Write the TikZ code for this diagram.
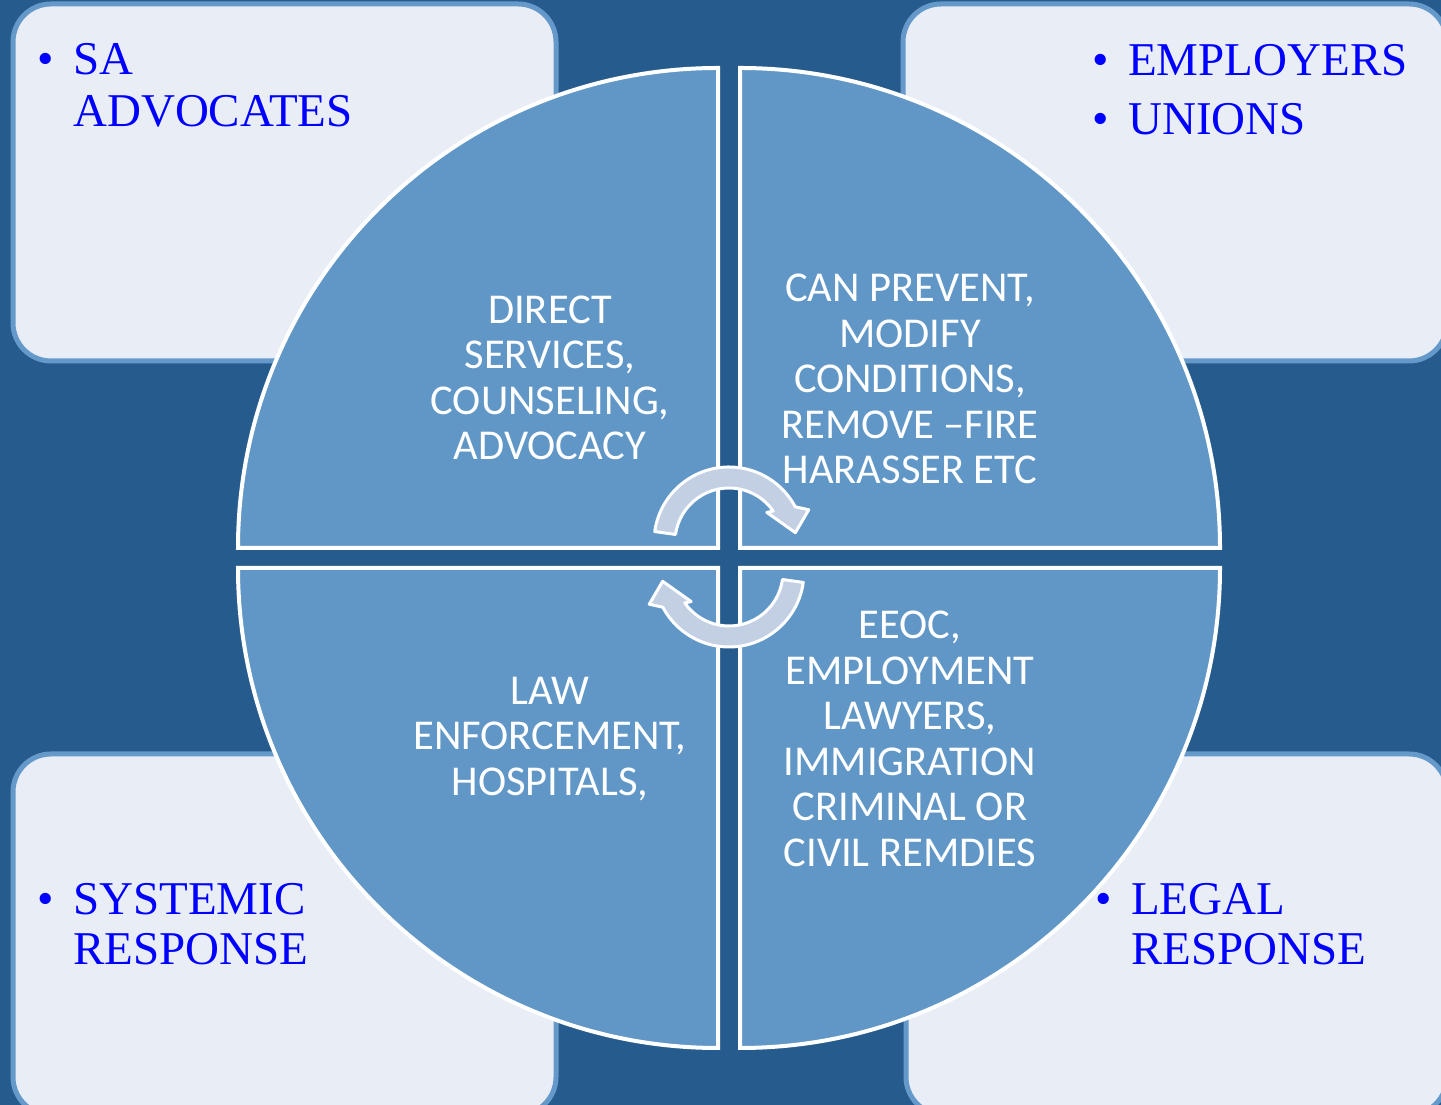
\documentclass[tikz,border=0pt]{standalone}
\usepackage{fontspec}
\setmainfont{Liberation Serif}
\newfontfamily\quadfont{Carlito}
\usetikzlibrary{calc}
\definecolor{slidebg}{RGB}{38,92,141}
\definecolor{quadfill}{RGB}{97,151,199}
\definecolor{boxfill}{RGB}{233,238,246}
\definecolor{boxedge}{RGB}{101,153,202}
\definecolor{arrowfill}{RGB}{195,208,227}
\tikzset{
	cornerbox/.style={fill=boxfill, draw=boxedge, line width=5pt, rounded corners=38pt},
	quadrant/.style={fill=quadfill, draw=white, line width=4pt},
	quadtext/.style={text=white, align=center, font=\quadfont\fontsize{42.5}{45.5}\selectfont},
	itemtext/.style={text=blue, anchor=base west, inner sep=0pt, font=\fontsize{47}{52}\selectfont},
	itembullet/.style={text=blue, anchor=base, inner sep=0pt, font=\fontsize{47}{52}\selectfont},
	turnarrow/.style={fill=arrowfill, draw=white, line width=3pt, line join=round}
}
\begin{document}
\begin{tikzpicture}[x=1pt, y=1pt]
				\useasboundingbox (0,0) rectangle (1441,1105);
				\clip (0,0) rectangle (1441,1105);
				\fill[slidebg] (0,0) rectangle (1441,1105);
				\draw[cornerbox] (13,744) rectangle (556,1101);
				\draw[cornerbox] (903,744) rectangle (1447,1101);
				\draw[cornerbox] (13,-10) rectangle (556,351);
				\draw[cornerbox] (906,-10) rectangle (1447,351);
				\node[itembullet] (sabul) at (46,1030) {•};
				\node[itemtext] (sa) at (73,1030) {SA};
				\node[itemtext] (advocates) at (73,978) {ADVOCATES};
				\node[itembullet] (empbul) at (1101,1029) {•};
				\node[itemtext] (employers) at (1128,1029) {EMPLOYERS};
				\node[itembullet] (unibul) at (1101,970) {•};
				\node[itemtext] (unions) at (1128,970) {UNIONS};
				\node[itembullet] (sysbul) at (46,190) {•};
				\node[itemtext] (systemic) at (73,190) {SYSTEMIC};
				\node[itemtext] (sysresp) at (73,140) {RESPONSE};
				\node[itembullet] (legbul) at (1104,190) {•};
				\node[itemtext] (legal) at (1131,190) {LEGAL};
				\node[itemtext] (legresp) at (1131,140) {RESPONSE};
				\coordinate (tlc) at (718,557);
				\coordinate (trc) at (740,557);
				\coordinate (blc) at (718,537);
				\coordinate (brc) at (740,537);
				\draw[quadrant] (tlc) -- ++(0,480) arc[start angle=90, end angle=180, radius=480] -- cycle;
				\draw[quadrant] (trc) -- ++(480,0) arc[start angle=0, end angle=90, radius=480] -- cycle;
				\draw[quadrant] (blc) -- ++(-480,0) arc[start angle=180, end angle=270, radius=480] -- cycle;
				\draw[quadrant] (brc) -- ++(0,-480) arc[start angle=270, end angle=360, radius=480] -- cycle;
				\node[quadtext] (direct) at (550,727) {DIRECT\\SERVICES,\\COUNSELING,\\ADVOCACY};
				\node[quadtext] (prevent) at (910,726) {CAN PREVENT,\\MODIFY\\CONDITIONS,\\REMOVE –FIRE\\HARASSER ETC};
				\node[quadtext] (law) at (550,366) {LAW\\ENFORCEMENT,\\HOSPITALS,};
				\node[quadtext] (eeoc) at (910,366) {EEOC,\\EMPLOYMENT\\LAWYERS,\\IMMIGRATION\\CRIMINAL OR\\CIVIL REMDIES};
				\coordinate (ta) at (729,563);
				\coordinate (ba) at (729,533);
				\foreach \ctr/\rot in {ta/0, ba/180}
					\draw[turnarrow] ($(\ctr)+(172+\rot:75)$)
						arc[start angle=172+\rot, end angle=28+\rot, radius=75]
						-- ($(\ctr)+(22+\rot:86)$)
						-- ($(\ctr)+(8+\rot:67)$)
						-- ($(\ctr)+(38+\rot:48)$)
						-- ($(\ctr)+(35+\rot:54)$)
						arc[start angle=35+\rot, end angle=172+\rot, radius=54]
						-- cycle;
			\end{tikzpicture}
\end{document}
